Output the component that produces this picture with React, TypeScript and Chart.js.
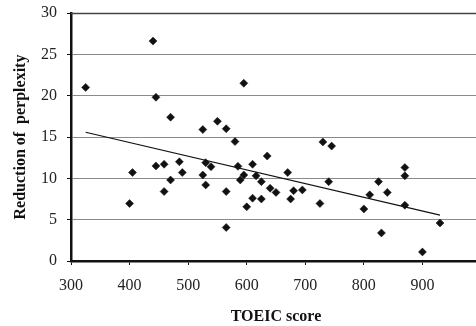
import React, { useEffect, useRef } from "react";
import { Chart, registerables } from "chart.js";

Chart.register(...registerables);

// TOEIC score (x) and reduction of perplexity (y) for each learner
const toeicScores = [
  325, 400, 405, 440, 445, 445, 459, 459, 470, 470,
  485, 490, 525, 525, 530, 530, 539, 550, 565, 565,
  565, 580, 585, 589, 595, 595, 600, 610, 610, 616,
  625, 625, 635, 640, 650, 670, 675, 680, 695, 725,
  730, 740, 745, 800, 810, 825, 830, 840, 870, 870,
  870, 900, 930,
];
const perplexityReduction = [
  21.0, 6.95, 10.7, 26.6, 19.8, 11.5, 11.7, 8.4, 17.4, 9.8,
  12.0, 10.7, 15.9, 10.4, 11.9, 9.2, 11.4, 16.9, 16.0, 8.4,
  4.05, 14.45, 11.45, 9.8, 21.5, 10.4, 6.55, 11.7, 7.6, 10.3,
  9.6, 7.5, 12.7, 8.8, 8.3, 10.7, 7.5, 8.5, 8.6, 6.95,
  14.4, 9.6, 13.9, 6.3, 8.0, 9.6, 3.4, 8.3, 11.3, 10.3,
  6.75, 1.1, 4.6,
];
// Trend line end points
const trendX = [325, 930];
const trendY = [15.57, 5.54];

const xTitle = "TOEIC score";
const yTitle = "Reduction of  perplexity";

const FONT = "'Liberation Serif', 'DejaVu Serif', serif";

const topLine = {
  id: "topLine",
  afterDraw(chart: any) {
    const { ctx, chartArea } = chart;
    ctx.save();
    ctx.strokeStyle = "#444";
    ctx.lineWidth = 1.5;
    ctx.beginPath();
    ctx.moveTo(chartArea.left, chartArea.top + 0.5);
    ctx.lineTo(chartArea.right, chartArea.top + 0.5);
    ctx.stroke();
    ctx.restore();
  },
};

export default function App() {
  const canvasRef = useRef<HTMLCanvasElement | null>(null);

  useEffect(() => {
    const canvas = canvasRef.current;
    if (!canvas) return;
    const zeroPad = (scale: any) => {
      scale.paddingLeft = 0;
      scale.paddingRight = 0;
      scale.paddingTop = 0;
      scale.paddingBottom = 0;
    };
    const chart = new Chart(canvas, {
      type: "scatter",
      data: {
        datasets: [
          {
            type: "scatter",
            data: toeicScores.map((x, i) => ({ x, y: perplexityReduction[i] })),
            pointStyle: "rectRot",
            pointRadius: 4,
            pointBorderWidth: 0.5,
            backgroundColor: "#111",
            borderColor: "#111",
            order: 1,
          },
          {
            type: "line",
            data: trendX.map((x, i) => ({ x, y: trendY[i] })),
            borderColor: "#111",
            borderWidth: 1.2,
            pointRadius: 0,
            fill: false,
            showLine: true,
            order: 2,
          } as any,
        ],
      },
      plugins: [topLine],
      options: {
        responsive: false,
        animation: false,
        devicePixelRatio: 1,
        layout: { padding: { top: 13, right: 5, left: 0, bottom: 0 } },
        plugins: {
          legend: { display: false },
          tooltip: { enabled: false },
        },
        scales: {
          x: {
            type: "linear",
            min: 300,
            max: 1000,
            afterFit: (scale: any) => {
              scale.height = 65;
              zeroPad(scale);
            },
            ticks: {
              stepSize: 100,
              color: "#222",
              padding: 11,
              maxRotation: 0,
              font: { family: FONT, size: 16 },
              callback: (v: any) => (v >= 1000 ? "" : String(v)),
            },
            grid: {
              drawOnChartArea: false,
              drawTicks: true,
              tickLength: 4,
              tickColor: "#111",
              tickWidth: 1,
            },
            border: { display: true, color: "#111", width: 2.5 },
            title: {
              display: true,
              text: xTitle,
              color: "#111",
              font: { family: FONT, size: 16, weight: "bold" },
              padding: { top: 0, bottom: 0 },
            },
          },
          y: {
            type: "linear",
            min: 0,
            max: 30,
            afterFit: (scale: any) => {
              scale.width = 71;
              zeroPad(scale);
            },
            ticks: {
              stepSize: 5,
              color: "#222",
              padding: 10,
              font: { family: FONT, size: 16 },
            },
            grid: {
              drawOnChartArea: true,
              drawTicks: true,
              tickLength: 4,
              tickColor: "#111",
              tickWidth: 1,
              tickBorderDash: [],
              color: "#8a8a8a",
              lineWidth: 1,
              borderDash: [1, 1],
            } as any,
            border: { display: true, color: "#111", width: 2.5 },
            title: {
              display: true,
              text: yTitle,
              color: "#111",
              font: { family: FONT, size: 16, weight: "bold" },
              padding: { top: 11, bottom: 0 },
            },
          },
        },
      },
    });
    return () => chart.destroy();
  }, []);

  return (
    <div
      style={{
        position: "fixed",
        left: 0,
        top: 0,
        width: 476,
        height: 326,
        overflow: "hidden",
        background: "#fff",
      }}
    >
      <canvas ref={canvasRef} width={486} height={326} style={{ display: "block" }} />
    </div>
  );
}
